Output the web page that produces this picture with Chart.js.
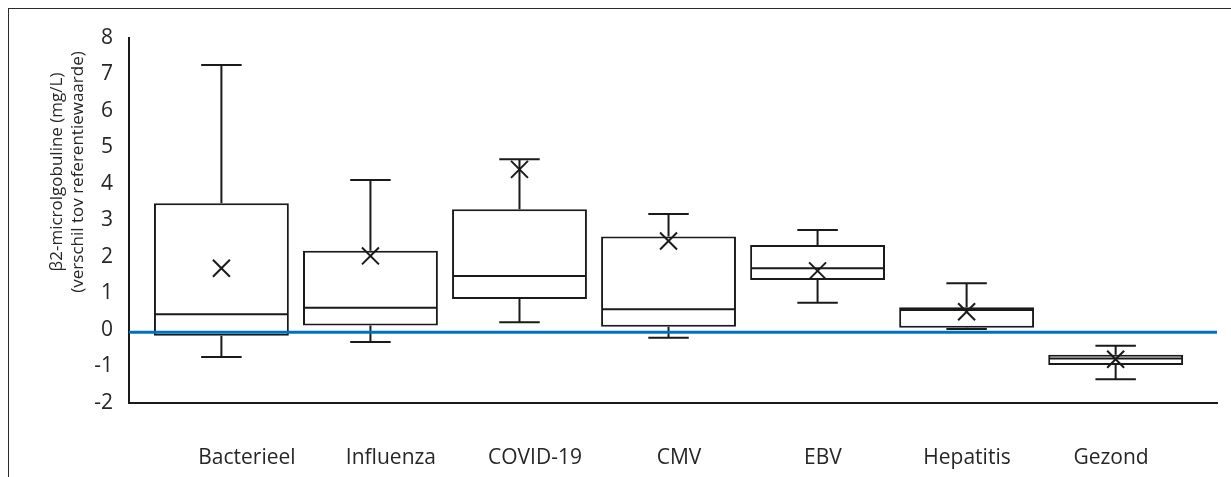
<!DOCTYPE html>
<html>
<head>
<meta charset="utf-8">
<title>β2-microglobuline</title>
<script src="https://cdn.jsdelivr.net/npm/chart.js@4.4.0/dist/chart.umd.min.js"></script>
<style>
  html, body { margin: 0; padding: 0; background: #fff; overflow: hidden; }
  #frame {
    position: absolute; left: 8px; top: 8px;
    width: 1400px; height: 600px;
    border: 1px solid #2b2b2b;
  }
  #chart { position: absolute; left: 0; top: 0; }
</style>
</head>
<body>
<div id="frame"></div>
<canvas id="chart" width="1231" height="477"></canvas>
<script>
// Box plot data per group (difference from reference value, mg/L)
const categories = ["Bacterieel", "Influenza", "COVID-19", "CMV", "EBV", "Hepatitis", "Gezond"];
const whiskerLow = [-0.74, -0.33, 0.21, -0.21, 0.75, 0.03, -1.35];
const q1 = [-0.16, 0.12, 0.85, 0.09, 1.37, 0.06, -0.96];
const median = [0.43, 0.61, 1.48, 0.57, 1.69, 0.55, -0.78];
const q3 = [3.47, 2.17, 3.31, 2.56, 2.33, 0.62, -0.68];
const whiskerHigh = [7.26, 4.11, 4.68, 3.18, 2.74, 1.28, -0.43];
const mean = [1.69, 2.03, 4.40, 2.44, 1.62, 0.50, -0.80];

// Reference line (blue) and y axis range
const refLineValue = -0.06;
const yMin = -2;
const yMax = 8;
const yTitleLines = ["β2-microlgobuline (mg/L)", "(verschil tov referentiewaarde)"];

const axisColor = "#1a1a1a";
const textColor = "#262626";
const fontFamily = "'Open Sans', 'Liberation Sans', sans-serif";

const categoryTicks = (scale) => {
  scale.ticks = categories.map((_, i) => ({ value: i }));
};

// Whiskers, caps and median lines, drawn right after the boxes
const boxPlotPlugin = {
  id: "boxWhiskers",
  afterDatasetDraw(chart, args) {
    if (args.index !== 0) return;
    const { ctx, scales: { x, y } } = chart;
    const bars = args.meta.data;
    ctx.save();
    ctx.strokeStyle = axisColor;
    ctx.lineWidth = 2;
    categories.forEach((_, i) => {
      const cx = x.getPixelForValue(i);
      const half = bars[i].width / 2;
      const cap = bars[i].width * 0.15;
      const yMed = y.getPixelForValue(median[i]);
      const yQ1 = y.getPixelForValue(q1[i]);
      const yQ3 = y.getPixelForValue(q3[i]);
      const yHi = y.getPixelForValue(whiskerHigh[i]);
      const yLo = y.getPixelForValue(whiskerLow[i]);

      ctx.beginPath();
      ctx.moveTo(cx - half + 1, yMed);
      ctx.lineTo(cx + half - 1, yMed);
      // upper whisker
      ctx.moveTo(cx, yQ3);
      ctx.lineTo(cx, yHi);
      ctx.moveTo(cx - cap, yHi);
      ctx.lineTo(cx + cap, yHi);
      // lower whisker
      ctx.moveTo(cx, yQ1);
      ctx.lineTo(cx, yLo);
      ctx.moveTo(cx - cap, yLo);
      ctx.lineTo(cx + cap, yLo);
      ctx.stroke();
    });
    ctx.restore();
  },
  afterDatasetsDraw(chart) {
    const { ctx, chartArea, scales: { y } } = chart;
    const yRef = y.getPixelForValue(refLineValue);
    ctx.save();
    ctx.strokeStyle = "#0070c0";
    ctx.lineWidth = 3;
    ctx.beginPath();
    ctx.moveTo(chartArea.left, yRef);
    ctx.lineTo(chartArea.right, yRef);
    ctx.stroke();
    ctx.restore();
  },
};

// Two-line rotated y axis title, placed a bit above the axis middle
const yTitlePlugin = {
  id: "yTitle",
  afterDraw(chart) {
    const { ctx } = chart;
    ctx.save();
    ctx.translate(57, 172);
    ctx.rotate(-Math.PI / 2);
    ctx.font = `17px ${fontFamily}`;
    ctx.fillStyle = textColor;
    ctx.textAlign = "center";
    ctx.textBaseline = "middle";
    yTitleLines.forEach((line, k) => ctx.fillText(line, 0, k * 21));
    ctx.restore();
  },
};

const ctx = document.getElementById("chart").getContext("2d");

new Chart(ctx, {
  type: "bar",
  data: {
    datasets: [
      {
        label: "Box",
        data: categories.map((_, i) => ({ x: i, y: [q1[i], q3[i]] })),
        backgroundColor: "#ffffff",
        borderColor: axisColor,
        borderWidth: 2,
        borderSkipped: false,
        categoryPercentage: 1,
        barPercentage: 0.905,
        order: 2,
      },
      {
        type: "line",
        label: "Gemiddelde",
        data: categories.map((_, i) => ({ x: i, y: mean[i] })),
        showLine: false,
        pointStyle: "crossRot",
        pointRadius: 12,
        pointBorderWidth: 2,
        pointBorderColor: axisColor,
        pointBackgroundColor: axisColor,
        order: 1,
      },
    ],
  },
  options: {
    responsive: false,
    animation: false,
    layout: {
      padding: { top: 38, right: 14, bottom: 0, left: 0 },
    },
    plugins: {
      legend: { display: false },
      tooltip: { enabled: false },
    },
    scales: {
      // positions the boxes; hidden
      x: {
        type: "linear",
        display: false,
        min: -0.62,
        max: 6.68,
        offset: false,
        afterBuildTicks: categoryTicks,
      },
      // category names sit on a slightly tighter spacing than the boxes
      xLabels: {
        type: "linear",
        position: "bottom",
        min: -0.819,
        max: 6.736,
        offset: false,
        grid: { display: false, drawTicks: false },
        border: { display: true, color: axisColor, width: 2 },
        afterBuildTicks: categoryTicks,
        afterFit: (scale) => {
          scale.height = 74;
        },
        ticks: {
          autoSkip: false,
          maxRotation: 0,
          padding: 42,
          color: textColor,
          font: { family: fontFamily, size: 21 },
          callback: (value) => categories[value] ?? "",
        },
      },
      y: {
        min: yMin,
        max: yMax,
        grid: { display: false, drawTicks: false },
        border: { display: true, color: axisColor, width: 2 },
        afterFit: (scale) => {
          scale.width = 129;
        },
        ticks: {
          stepSize: 1,
          padding: 16,
          color: textColor,
          font: { family: fontFamily, size: 21 },
        },
      },
    },
  },
  plugins: [boxPlotPlugin, yTitlePlugin],
});
</script>
</body>
</html>
